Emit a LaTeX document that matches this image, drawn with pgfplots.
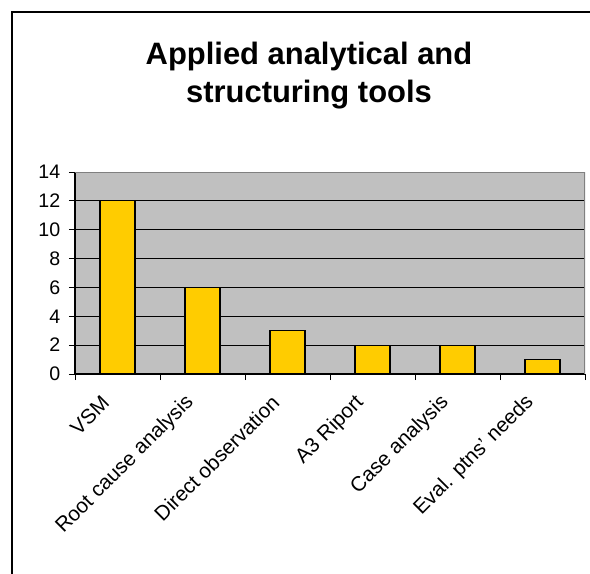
\documentclass[border=0pt]{standalone}
\usepackage{pgfplots}
\pgfplotsset{compat=1.18}
\usepackage{fontspec}
\setmainfont{Liberation Sans}
\definecolor{plotgray}{HTML}{C0C0C0}
\definecolor{bargold}{HTML}{FFCC00}
\definecolor{edgegray}{HTML}{808080}
\begin{document}
\begin{tikzpicture}[x=0.75pt,y=-0.75pt]
\useasboundingbox (0,0) rectangle (590,574);
\clip (0,0) rectangle (590,574);
% outer chart frame
\draw[black, line width=1.5pt] (12,12) rectangle (620,620);
% title
\node[anchor=base, font=\fontsize{23.2}{27}\selectfont\bfseries] at (309,65) {Applied analytical and};
\node[anchor=base, font=\fontsize{23.2}{27}\selectfont\bfseries] at (309,103) {structuring tools};
\begin{axis}[
  at={(56.25pt,-280.5pt)}, anchor=south west,
  scale only axis, width=382.5pt, height=151.5pt,
  ybar, bar width=26.25pt, bar shift=0pt,
  xmin=-0.5, xmax=5.5, ymin=0, ymax=14,
  axis background/.style={fill=plotgray},
  xtick={0,...,5},
  xticklabels={VSM, Root cause analysis, Direct observation, A3 Riport, Case analysis, Eval. ptns' needs},
  minor xtick={-0.5,0.5,...,5.5},
  ytick={0,2,...,14},
  ymajorgrids, grid style={black, line width=0.6pt},
  major x tick style={draw=none},
  minor tick length=4.5pt, major tick length=4.5pt,
  tick align=outside,
  tick style={black, line width=0.6pt},
  axis x line*=bottom, axis y line*=left,
  axis line style={black, line width=0.9pt, -},
  /pgf/number format/assume math mode=true,
  yticklabel style={font=\fontsize{14.7}{17}\selectfont, xshift=-3pt},
  xticklabel style={font=\fontsize{15.5}{18}\selectfont, xshift=-6.5pt, yshift=-12pt, rotate=45, anchor=east},
]
\addplot[fill=bargold, draw=black, line width=0.9pt] coordinates {(0,12) (1,6) (2,3) (3,2) (4,2) (5,1)};
\draw[edgegray, line width=1pt] (rel axis cs:0,1) -- (rel axis cs:1,1) -- (rel axis cs:1,0);
\end{axis}
\end{tikzpicture}
\end{document}
